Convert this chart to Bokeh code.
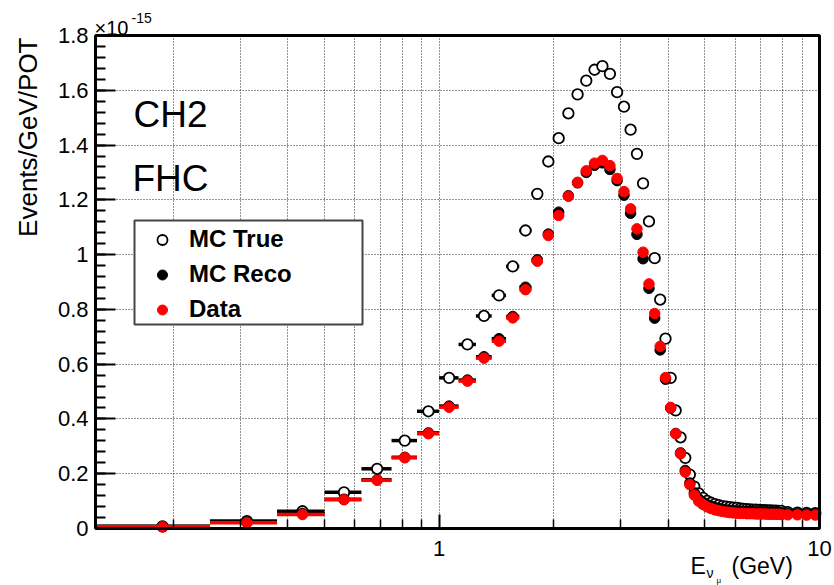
import math
from bokeh.plotting import figure
from bokeh.models import (FixedTicker, CustomJSTickFormatter, Label, BoxAnnotation,
                          Legend, LegendItem, ColumnDataSource, Range1d)
from bokeh.embed import file_html
from bokeh.resources import INLINE

# ---------------- data (units of 1e-15 Events/GeV/POT) ----------------
bin_edges = [0.125, 0.25, 0.375, 0.5, 0.625, 0.75, 0.875, 1.0,
             1.125, 1.25, 1.375, 1.5, 1.625, 1.75, 1.875, 2.0,
             2.125, 2.25, 2.375, 2.5, 2.625, 2.75, 2.875, 3.0,
             3.125, 3.25, 3.375, 3.5, 3.625, 3.75, 3.875, 4.0,
             4.125, 4.25, 4.375, 4.5, 4.625, 4.75, 4.875, 5.0,
             5.125, 5.25, 5.375, 5.5, 5.625, 5.75, 5.875, 6.0,
             6.125, 6.25, 6.375, 6.5, 6.625, 6.75, 6.875, 7.0,
             7.125, 7.25, 7.375, 7.5, 7.625, 7.75, 7.875, 8.0,
             8.5, 9.0, 9.5, 10.0]

mc_true = [0.008, 0.027, 0.063, 0.132, 0.218, 0.321, 0.428, 0.550, 0.672, 0.776,
           0.851, 0.957, 1.088, 1.222, 1.340, 1.425, 1.516, 1.585, 1.635, 1.675,
           1.688, 1.660, 1.593, 1.540, 1.456, 1.368, 1.260, 1.121, 0.987, 0.836,
           0.693, 0.550, 0.431, 0.333, 0.258, 0.197, 0.153, 0.128, 0.112, 0.101,
           0.094, 0.089, 0.085, 0.082, 0.080, 0.078, 0.076, 0.075, 0.073, 0.072,
           0.071, 0.070, 0.069, 0.069, 0.068, 0.067, 0.067, 0.066, 0.066, 0.065,
           0.065, 0.064, 0.064,
           0.060, 0.058, 0.057, 0.056]

mc_reco = [0.007, 0.023, 0.055, 0.107, 0.178, 0.260, 0.349, 0.447, 0.542, 0.627,
           0.693, 0.774, 0.881, 0.981, 1.075, 1.155, 1.215, 1.262, 1.300, 1.326,
           1.335, 1.311, 1.270, 1.217, 1.151, 1.074, 0.985, 0.877, 0.768, 0.652,
           0.545, 0.440, 0.347, 0.276, 0.212, 0.166, 0.130, 0.108, 0.096, 0.087,
           0.081, 0.076, 0.073, 0.070, 0.068, 0.066, 0.065, 0.064, 0.063, 0.062,
           0.062, 0.061, 0.061, 0.060, 0.060, 0.060, 0.059, 0.059, 0.059, 0.058,
           0.058, 0.058, 0.058,
           0.055, 0.054, 0.054, 0.053]

data_vals = [0.006, 0.021, 0.051, 0.105, 0.176, 0.258, 0.346, 0.443, 0.538, 0.622,
             0.684, 0.769, 0.872, 0.976, 1.070, 1.143, 1.213, 1.264, 1.306, 1.334,
             1.344, 1.325, 1.278, 1.230, 1.167, 1.094, 1.009, 0.893, 0.785, 0.665,
             0.551, 0.442, 0.346, 0.273, 0.206, 0.160, 0.122, 0.100, 0.088, 0.079,
             0.073, 0.068, 0.065, 0.062, 0.060, 0.058, 0.057, 0.056, 0.055, 0.055,
             0.054, 0.054, 0.054, 0.053, 0.053, 0.053, 0.053, 0.052, 0.052, 0.052,
             0.052, 0.052, 0.051,
             0.050, 0.050, 0.049, 0.049]

y_ticks = [0.0, 0.2, 0.4, 0.6, 0.8, 1.0, 1.2, 1.4, 1.6, 1.8]
y_tick_labels = ["0", "0.2", "0.4", "0.6", "0.8", "1", "1.2", "1.4", "1.6", "1.8"]
x_ticks = [1, 10]
x_tick_labels = ["1", "10"]
x_minor = [0.2, 0.3, 0.4, 0.5, 0.6, 0.7, 0.8, 0.9, 2, 3, 4, 5, 6, 7, 8, 9]
series_names = ["MC True", "MC Reco", "Data"]

lo = bin_edges[:-1]
hi = bin_edges[1:]
centers = [(a + b) / 2 for a, b in zip(lo, hi)]

FONT = "Liberation Sans"
W, H = 834, 585
X0, X1 = 0.125, 10.0          # plotted box, data units
Y0, Y1 = 0.0, 1.8
FL, FR, FT, FB = 95, 819, 35, 528   # plotted box in canvas pixels


def xd(px):
    return 10 ** (math.log10(X0) + (px - FL) / (FR - FL) * math.log10(X1 / X0))


def yd(py):
    return Y0 + (FB - py) / (FB - FT) * (Y1 - Y0)


# the Bokeh frame spans the whole canvas; the ROOT-style box is drawn inside it
p = figure(width=W, height=H, x_axis_type="log",
           x_range=Range1d(xd(0), xd(W)), y_range=Range1d(yd(H), yd(0)),
           output_backend="svg", toolbar_location=None,
           min_border_left=0, min_border_right=0, min_border_top=0, min_border_bottom=0)
p.title.visible = False
p.background_fill_color = "white"
p.border_fill_color = "white"
p.outline_line_color = None

# ---------------- axes (fixed on the box edges) ----------------
yt = FixedTicker(ticks=y_ticks, minor_ticks=[round(0.04 * i, 2) for i in range(46)])
yax = p.yaxis[0]
yax.fixed_location = X0
yax.bounds = (Y0, Y1)
yax.ticker = yt
yax.formatter = CustomJSTickFormatter(code="return Number(tick.toFixed(1)).toString();")
yax.major_label_overrides = {t: l for t, l in zip(y_ticks, y_tick_labels)}
yax.major_label_text_font = FONT
yax.major_label_text_font_size = "22px"
yax.major_label_text_color = "black"
yax.major_label_standoff = 7
yax.major_tick_in = 20
yax.major_tick_out = 0
yax.minor_tick_in = 10
yax.minor_tick_out = 0
yax.major_tick_line_width = 2
yax.minor_tick_line_width = 2
yax.major_tick_line_color = "black"
yax.minor_tick_line_color = "black"
yax.axis_line_color = None

xt = FixedTicker(ticks=x_ticks, minor_ticks=x_minor)
xax = p.xaxis[0]
xax.fixed_location = Y0
xax.bounds = (X0, X1)
xax.ticker = xt
xax.formatter = CustomJSTickFormatter(code="return Math.round(tick).toString();")
xax.major_label_overrides = {t: l for t, l in zip(x_ticks, x_tick_labels)}
xax.major_label_text_font = FONT
xax.major_label_text_font_size = "22px"
xax.major_label_text_color = "black"
xax.major_label_standoff = 12
xax.major_tick_in = 14
xax.major_tick_out = 0
xax.minor_tick_in = 9
xax.minor_tick_out = 0
xax.major_tick_line_width = 2
xax.minor_tick_line_width = 1.5
xax.major_tick_line_color = "black"
xax.minor_tick_line_color = "black"
xax.axis_line_color = None

# ---------------- grid ----------------
xg, yg = p.xgrid[0], p.ygrid[0]
xg.ticker = xt
yg.ticker = yt
xg.bounds = (X0, X1)
xg.cross_bounds = (Y0, Y1)
yg.bounds = (Y0, Y1)
yg.cross_bounds = (X0, X1)
for g in (xg, yg):
    g.grid_line_color = "black"
    g.grid_line_dash = "1 2"
    g.grid_line_width = 1
    g.grid_line_alpha = 0.85
xg.minor_grid_line_color = "black"
xg.minor_grid_line_dash = "1 2"
xg.minor_grid_line_width = 1
xg.minor_grid_line_alpha = 0.85

# ---------------- data marks ----------------
src = ColumnDataSource(dict(lo=lo, hi=hi, x=centers, true=mc_true, reco=mc_reco, data=data_vals))

p.segment(x0="lo", x1="hi", y0="true", y1="true", source=src, line_color="black", line_width=3.5)
r_true = p.scatter(x="x", y="true", source=src, marker="circle", size=10.5,
                   fill_color="white", fill_alpha=1.0, line_color="black", line_width=1.8)
p.segment(x0="lo", x1="hi", y0="reco", y1="reco", source=src, line_color="black", line_width=3.5)
r_reco = p.scatter(x="x", y="reco", source=src, marker="circle", size=10.5,
                   fill_color="black", line_color="black", line_width=1)
p.segment(x0="lo", x1="hi", y0="data", y1="data", source=src, line_color="#ff0000", line_width=3.5)
r_data = p.scatter(x="x", y="data", source=src, marker="circle", size=10.5,
                   fill_color="#ff0000", line_color="#ff0000", line_width=1)

# plot box (frame outline)
p.add_layout(BoxAnnotation(left=X0, right=X1, bottom=Y0, top=Y1, fill_alpha=0, fill_color=None,
                           line_color="black", line_width=3, line_alpha=1.0))

# ---------------- legend ----------------
p.add_layout(BoxAnnotation(left=xd(134), right=xd(362), top=yd(220), bottom=yd(324),
                           fill_color="white", fill_alpha=1.0, line_color="#444444",
                           line_width=2, line_alpha=1.0))

legend = Legend(items=[LegendItem(label=series_names[0], renderers=[r_true]),
                       LegendItem(label=series_names[1], renderers=[r_reco]),
                       LegendItem(label=series_names[2], renderers=[r_data])],
                location=(142, H - 323), orientation="vertical",
                background_fill_alpha=0, border_line_color=None,
                label_text_font=FONT, label_text_font_size="24px", label_text_font_style="bold",
                label_text_color="black",
                glyph_width=40, glyph_height=25, label_height=28, label_standoff=7,
                spacing=7, padding=6, margin=0)
p.add_layout(legend)


# ---------------- texts (anchored at the visual centre of the glyphs) ----------------
def lab(px, py, text, size, **kw):
    opts = dict(text_font=FONT, text_font_size=size, text_color="black",
                text_align="left", text_baseline="middle")
    opts.update(kw)
    p.add_layout(Label(x=xd(px), y=yd(py), text=text, **opts))


lab(133, 114, "CH2", "37px")
lab(132, 177.5, "FHC", "37px")
lab(94, 27, "×10", "20px")
lab(131, 17.5, "-15", "14px")
lab(27, 37, "Events/GeV/POT", "26px", angle=math.pi / 2, text_align="right")
lab(690, 565, "E", "23px")
lab(706, 572, "ν", "14px")
lab(716, 580, "μ", "8px")
lab(731, 565, "(GeV)", "23px")

open("out.html", "w").write(file_html(p, INLINE))
